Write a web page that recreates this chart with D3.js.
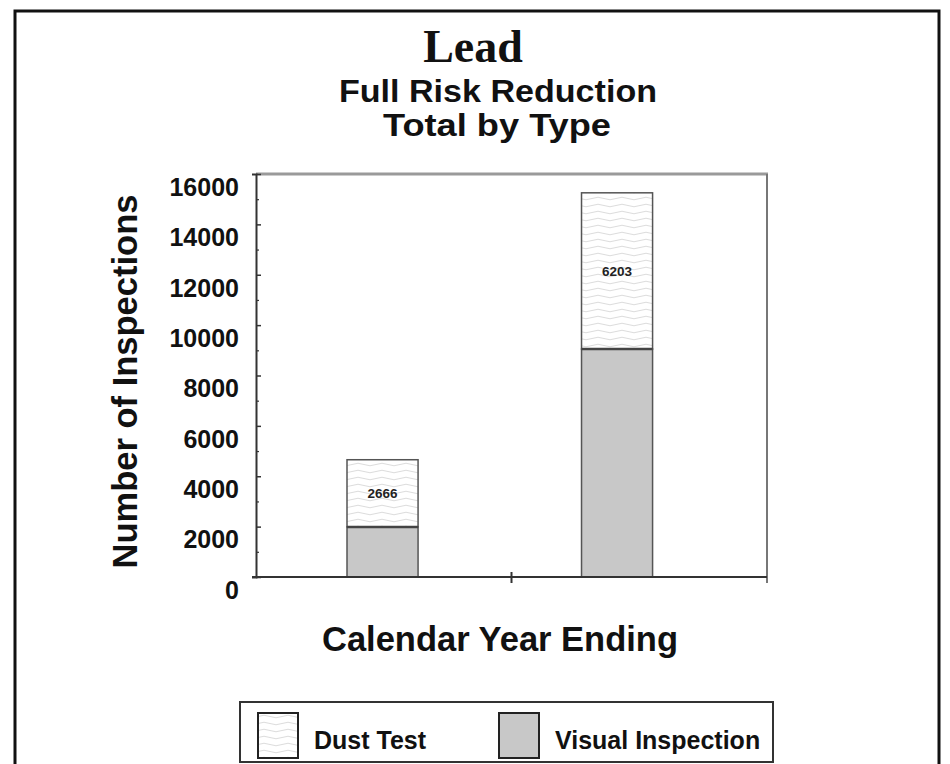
<!DOCTYPE html>
<html>
<head>
<meta charset="utf-8">
<script src="https://cdn.jsdelivr.net/npm/d3@7"></script>
<style>
  body { margin: 0; background: #fff; }
  text { font-family: "Liberation Sans", Arial, sans-serif; font-weight: bold; fill: #111; }
</style>
</head>
<body>
<svg id="chart" width="950" height="764"></svg>
<script>
// values
const categories = ["Year 1", "Year 2"];
const visualInspection = [1990, 9050];
const dustTest = [2666, 6203];
const seriesNames = ["Dust Test", "Visual Inspection"];
const yTicks = [0, 2000, 4000, 6000, 8000, 10000, 12000, 14000, 16000];
const yMinorTicks = [1000, 3000, 5000, 7000, 9000, 11000, 13000, 15000];

const svg = d3.select("#chart");
const margin = {top: 174, right: 183, bottom: 187, left: 256};
const width = 950 - margin.left - margin.right;
const height = 764 - margin.top - margin.bottom;

// wavy fill for the dust test series
const defs = svg.append("defs");
const wave = defs.append("pattern")
    .attr("id", "wave")
    .attr("patternUnits", "userSpaceOnUse")
    .attr("width", 24)
    .attr("height", 7);
wave.append("rect").attr("width", 24).attr("height", 7).attr("fill", "#fff");
wave.append("path")
    .attr("d", "M0,3.5 Q6,1 12,3.5 T24,3.5")
    .attr("fill", "none")
    .attr("stroke", "#dcdcdc")
    .attr("stroke-width", 1);

// outer frame
svg.append("rect")
    .attr("x", 15).attr("y", 11)
    .attr("width", 924).attr("height", 800)
    .attr("fill", "none")
    .attr("stroke", "#111")
    .attr("stroke-width", 3);

// titles
svg.append("text")
    .attr("x", 473).attr("y", 62)
    .attr("text-anchor", "middle")
    .style("font-family", "'Liberation Serif', 'Times New Roman', serif")
    .style("font-size", "46px")
    .text("Lead");
svg.append("text")
    .attr("x", 498).attr("y", 102)
    .attr("text-anchor", "middle")
    .attr("textLength", 318)
    .attr("lengthAdjust", "spacingAndGlyphs")
    .style("font-size", "32px")
    .text("Full Risk Reduction");
svg.append("text")
    .attr("x", 497).attr("y", 136)
    .attr("text-anchor", "middle")
    .attr("textLength", 228)
    .attr("lengthAdjust", "spacingAndGlyphs")
    .style("font-size", "32px")
    .text("Total by Type");

const g = svg.append("g")
    .attr("transform", "translate(" + margin.left + "," + margin.top + ")");

const x = d3.scaleBand()
    .domain(categories)
    .range([0, width])
    .paddingInner(0.697)
    .paddingOuter(0.438)
    .align(0.443);

const y = d3.scaleLinear()
    .domain([0, 16000])
    .range([height, 0]);

// plot frame: top and right
g.append("line")
    .attr("x1", 0).attr("x2", width + 1)
    .attr("y1", 0).attr("y2", 0)
    .attr("stroke", "#9a9a9a")
    .attr("stroke-width", 3);
g.append("line")
    .attr("x1", width).attr("x2", width)
    .attr("y1", 0).attr("y2", height + 6)
    .attr("stroke", "#777")
    .attr("stroke-width", 2);

// stacked bars
const stackData = categories.map(function(c, i) {
    return {cat: c, visual: visualInspection[i], dust: dustTest[i]};
});

const bars = g.append("g").selectAll("g.bar")
    .data(stackData)
    .enter().append("g")
    .attr("class", "bar");

bars.append("rect")
    .attr("x", function(d) { return x(d.cat); })
    .attr("y", function(d) { return y(d.visual + d.dust); })
    .attr("width", x.bandwidth())
    .attr("height", function(d) { return y(d.visual) - y(d.visual + d.dust); })
    .attr("fill", "url(#wave)")
    .attr("stroke", "#555")
    .attr("stroke-width", 1.5);

bars.append("rect")
    .attr("x", function(d) { return x(d.cat); })
    .attr("y", function(d) { return y(d.visual); })
    .attr("width", x.bandwidth())
    .attr("height", function(d) { return y(0) - y(d.visual); })
    .attr("fill", "#c8c8c8")
    .attr("stroke", "#555")
    .attr("stroke-width", 1.5);

// darker boundary between the two segments
bars.append("line")
    .attr("x1", function(d) { return x(d.cat); })
    .attr("x2", function(d) { return x(d.cat) + x.bandwidth(); })
    .attr("y1", function(d) { return y(d.visual); })
    .attr("y2", function(d) { return y(d.visual); })
    .attr("stroke", "#444")
    .attr("stroke-width", 2.5);

bars.append("text")
    .attr("x", function(d) { return x(d.cat) + x.bandwidth() / 2; })
    .attr("y", function(d) { return y(d.visual + d.dust * 0.5) + 5; })
    .attr("text-anchor", "middle")
    .style("font-size", "13.5px")
    .style("fill", "#222")
    .text(function(d) { return d.dust; });

// y axis, ticks cross the axis line
const yAxis = g.append("g")
    .call(d3.axisLeft(y).tickValues(yTicks).tickFormat(d3.format("d")).tickSize(4).tickPadding(13));
yAxis.select(".domain").attr("stroke", "#333").attr("stroke-width", 2);
yAxis.selectAll(".tick line").attr("x2", 5).attr("stroke", "#333").attr("stroke-width", 1.5);
yAxis.selectAll(".tick text")
    .attr("dy", "0.85em")
    .style("font-size", "25px")
    .style("font-family", "'Liberation Sans', Arial, sans-serif")
    .style("font-weight", "bold")
    .attr("fill", "#111");

const yMinor = g.append("g")
    .call(d3.axisLeft(y).tickValues(yMinorTicks).tickSize(2).tickFormat(""));
yMinor.select(".domain").remove();
yMinor.selectAll(".tick line").attr("x2", 3).attr("stroke", "#333").attr("stroke-width", 1.2);

// x axis line with a tick between the categories
g.append("line")
    .attr("x1", -4).attr("x2", width)
    .attr("y1", height).attr("y2", height)
    .attr("stroke", "#333")
    .attr("stroke-width", 2);
g.append("line")
    .attr("x1", width / 2).attr("x2", width / 2)
    .attr("y1", height - 5).attr("y2", height + 6)
    .attr("stroke", "#333")
    .attr("stroke-width", 2);

// axis titles
svg.append("text")
    .attr("transform", "translate(137," + (margin.top + height / 2 + 6) + ") rotate(-90)")
    .attr("text-anchor", "middle")
    .style("font-size", "34.5px")
    .text("Number of Inspections");
svg.append("text")
    .attr("x", 500).attr("y", 651)
    .attr("text-anchor", "middle")
    .style("font-size", "34.5px")
    .text("Calendar Year Ending");

// legend
const legend = svg.append("g");
legend.append("rect")
    .attr("x", 240).attr("y", 702)
    .attr("width", 533).attr("height", 60)
    .attr("fill", "#fff")
    .attr("stroke", "#333")
    .attr("stroke-width", 2);

const legendX = [258, 499];
const legendFill = ["url(#wave)", "#c8c8c8"];
const items = legend.selectAll("g.item")
    .data(seriesNames)
    .enter().append("g")
    .attr("class", "item")
    .attr("transform", function(d, i) { return "translate(" + legendX[i] + ",713)"; });
items.append("rect")
    .attr("width", 40).attr("height", 45)
    .attr("fill", function(d, i) { return legendFill[i]; })
    .attr("stroke", "#222")
    .attr("stroke-width", 2);
items.append("text")
    .attr("x", 56).attr("y", 36)
    .style("font-size", "25px")
    .text(function(d) { return d; });
</script>
</body>
</html>
